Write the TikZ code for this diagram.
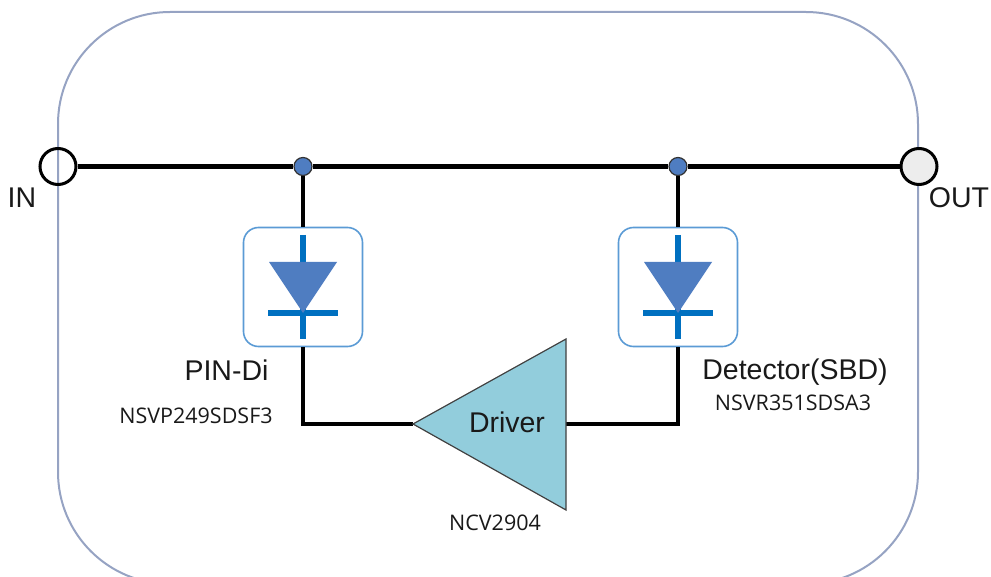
\documentclass[tikz,border=0pt]{standalone}
\usepackage{fontspec}
\setmainfont{Liberation Sans}
\newfontfamily\partfont{Open Sans}
\usetikzlibrary{positioning}
\definecolor{framecol}{RGB}{150,163,195}
\definecolor{boxcol}{RGB}{91,155,213}
\definecolor{diodecol}{RGB}{79,125,193}
\definecolor{barcol}{RGB}{0,112,192}
\definecolor{drivercol}{RGB}{146,205,220}
\tikzset{
    wire/.style={line width=4.2pt, black},
    port/.style={circle, draw=black, line width=3pt, minimum size=36pt, inner sep=0pt},
    junction/.style={circle, draw=black!80, line width=1.2pt, fill=diodecol, minimum size=18pt, inner sep=0pt},
    diodebox/.style={draw=boxcol, line width=1.6pt, rounded corners=15pt, fill=white, minimum width=119pt, minimum height=119pt, inner sep=0pt},
    label/.style={font=\fontsize{28.5}{28.5}\selectfont, inner sep=0pt, text=black!90},
    partno/.style={font=\partfont\fontsize{21.5}{21.5}\selectfont, inner sep=0pt, text=black!90},
    bar/.style={line width=5.5pt, barcol},
}
\begin{document}
\begin{tikzpicture}[x=1pt, y=-1pt]
    \useasboundingbox (0,0) rectangle (991,577);
    \begin{scope}
        \clip (0,0) rectangle (991,577);
        \draw[framecol, line width=2pt, rounded corners=112pt] (58,12) rectangle (918,584);
    \end{scope}
    % ports and junctions on the main line
    \node[port] (in) at (58,166.5) {};
    \node[port, fill=black!7] (out) at (919,166.5) {};
    \node[junction] (j1) at (303,166.5) {};
    \node[junction] (j2) at (678,166.5) {};
    \node[diodebox] (box1) at (303,287) {};
    \node[diodebox] (box2) at (678,287) {};
    % driver triangle
    \coordinate (drvtip) at (413,424);
    \coordinate (drvtop) at (566,339);
    \coordinate (drvbot) at (566,510);
    \coordinate (drvout) at (566,424);
    \coordinate (c1) at (303,424);
    \coordinate (c2) at (678,424);
    \draw[wire] (in) -- (j1);
    \draw[wire] (j1) -- (j2);
    \draw[wire] (j2) -- (out);
    \draw[wire] (j1) -- (box1);
    \draw[wire] (j2) -- (box2);
    \draw[wire] (box1) -- (c1) -- (drvtip);
    \draw[wire] (box2) -- (c2) -- (drvout);
    \fill[drivercol] (drvtip) -- (drvtop) -- (drvbot) -- cycle;
    \draw[black!75, line width=1.2pt] (drvtip) -- (drvtop) -- (drvbot) -- cycle;
    % diode symbols
    \foreach \n/\x in {box1/303, box2/678} {
        \draw[bar] (\x,235) -- (\x,339);
        \draw[bar] (\x-35,313) -- (\x+35,313);
        \fill[diodecol] (\x-34,262) -- (\x+34,262) -- (\x,313) -- cycle;
    }
    % labels
    \node[label] (inlabel) at (22,198) {IN};
    \node[label] (outlabel) at (959,198) {OUT};
    \node[label] (pinlabel) at (226.5,370) {PIN-Di};
    \node[label] (detlabel) at (795,372) {Detector(SBD)};
    \node[label] (drvlabel) at (507,422) {Driver};
    \node[partno] (pinpart) at (196,416) {NSVP249SDSF3};
    \node[partno] (detpart) at (793,403) {NSVR351SDSA3};
    \node[partno] (drvpart) at (495,523) {NCV2904};
\end{tikzpicture}
\end{document}
